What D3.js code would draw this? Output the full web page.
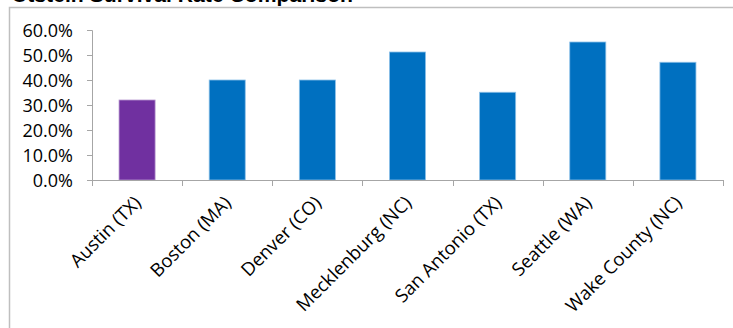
<!DOCTYPE html>
<html>
<head>
<meta charset="utf-8">
<script src="https://cdn.jsdelivr.net/npm/d3@7"></script>
<style>
  html, body { margin: 0; padding: 0; background: #fff; }
  svg { display: block; }
</style>
</head>
<body>
<svg id="viewport" width="733" height="328"></svg>
<script>
// chart data
const cities = ['Austin (TX)', 'Boston (MA)', 'Denver (CO)', 'Mecklenburg (NC)',
  'San Antonio (TX)', 'Seattle (WA)', 'Wake County (NC)'];
const survivalRates = [0.32, 0.40, 0.40, 0.512, 0.351, 0.552, 0.471];
const yTicks = [0, 0.1, 0.2, 0.3, 0.4, 0.5, 0.6];
const title = 'Utstein Survival Rate Comparison';

const colours = {
  highlight: '#7030a0',
  bar: '#0070c0',
  axis: '#a6a6a6',
  frame: '#bfbfbf',
};

const margin = { left: 92, right: 10, top: 30, bottom: 148 };
const width = 733;
const height = 328;
const font = '"Open Sans", "Liberation Sans", sans-serif';

const svg = d3.select('#viewport');

// chart frame (only top and left edges are visible)
svg.append('path')
  .attr('d', `M9.5,${height} V7.5 H${width}`)
  .attr('fill', 'none')
  .attr('stroke', colours.frame)
  .attr('stroke-width', 1.5);

// title, mostly cropped off the top as in the source
svg.append('text')
  .attr('x', 12)
  .attr('y', 2)
  .attr('textLength', 341)
  .attr('lengthAdjust', 'spacingAndGlyphs')
  .style('font-family', '"Liberation Sans", Arial, sans-serif')
  .style('font-weight', 'bold')
  .style('font-size', '20px')
  .text(title);

const x = d3.scaleBand()
  .domain(cities)
  .range([margin.left, 723])
  .paddingInner(0.6)
  .paddingOuter(0.3);

const y = d3.scaleLinear()
  .domain([0, 0.6])
  .range([180, 30]);

// y axis
const yAxis = svg.append('g')
  .attr('transform', `translate(${margin.left},0)`)
  .call(d3.axisLeft(y)
    .tickValues(yTicks)
    .tickFormat(d3.format('.1%'))
    .tickSize(5)
    .tickPadding(14));
yAxis.select('.domain').attr('stroke', colours.axis);
yAxis.selectAll('.tick line').attr('stroke', colours.axis);
yAxis.selectAll('text')
  .attr('fill', '#000')
  .style('font-family', font)
  .style('font-size', '18px')
  .attr('dy', '0.35em');

// bars
svg.append('g')
  .selectAll('rect')
  .data(cities)
  .join('rect')
  .attr('x', (d) => x(d))
  .attr('y', (d, i) => y(survivalRates[i]))
  .attr('width', x.bandwidth())
  .attr('height', (d, i) => y(0) - y(survivalRates[i]))
  .attr('fill', (d, i) => (i === 0 ? colours.highlight : colours.bar))
  .attr('stroke', (d, i) => (i === 0 ? '#b898d0' : '#8cc0e8'))
  .attr('stroke-width', 0.8);

// x axis: category boundaries as tick marks
const step = x.step();
const bounds = d3.range(cities.length + 1).map((i) => margin.left + i * step);
const xAxis = svg.append('g');
xAxis.append('line')
  .attr('x1', margin.left)
  .attr('x2', 723)
  .attr('y1', y(0) + 0.5)
  .attr('y2', y(0) + 0.5)
  .attr('stroke', colours.axis);
xAxis.selectAll('line.tick')
  .data(bounds)
  .join('line')
  .attr('class', 'tick')
  .attr('x1', (d) => Math.round(d) + 0.5)
  .attr('x2', (d) => Math.round(d) + 0.5)
  .attr('y1', y(0))
  .attr('y2', y(0) + 6)
  .attr('stroke', colours.axis);

// rotated category labels
svg.append('g')
  .selectAll('text')
  .data(cities)
  .join('text')
  .attr('transform', (d) => `translate(${x(d) + x.bandwidth() / 2 + 5},${y(0) + 24}) rotate(-45)`)
  .attr('text-anchor', 'end')
  .style('font-family', font)
  .style('font-size', '18.5px')
  .attr('fill', '#000')
  .text((d) => d);
</script>
</body>
</html>
